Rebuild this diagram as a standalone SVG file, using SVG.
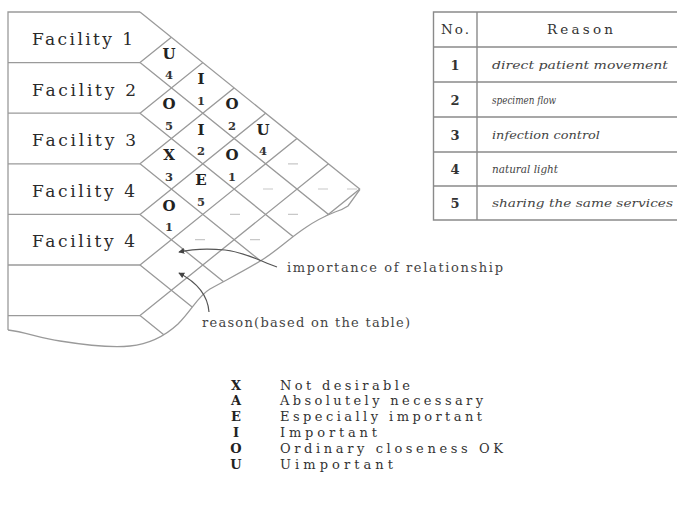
<svg xmlns="http://www.w3.org/2000/svg" width="677" height="507" viewBox="0 0 677 507">
<style>
.ln{fill:none;stroke:#9a9a9a;stroke-width:1.3}
.tb{fill:none;stroke:#8a8a8a;stroke-width:1.4}
.fac{font-family:"DejaVu Serif",serif;font-size:17px;fill:#2a2a2a}
.let{font-family:"DejaVu Serif",serif;font-size:15px;font-weight:bold;fill:#222;text-anchor:middle}
.num{font-family:"DejaVu Serif",serif;font-size:11.5px;font-weight:bold;fill:#333;text-anchor:middle}
.dash{stroke:#c8c8c8;stroke-width:1.2}
.hd{font-family:"DejaVu Serif",serif;font-size:13.5px;fill:#333}
.tn{font-family:"DejaVu Serif",serif;font-size:13px;font-weight:bold;fill:#333;text-anchor:middle}
.rs{font-family:"DejaVu Serif",serif;font-size:11.5px;font-style:italic;fill:#444}
.lg{font-family:"DejaVu Serif",serif;font-size:13px;fill:#333}
.lgl{font-family:"DejaVu Serif",serif;font-size:13px;font-weight:bold;fill:#222;text-anchor:middle}
.an{font-family:"DejaVu Serif",serif;font-size:13px;fill:#444}
.ar{fill:none;stroke:#555;stroke-width:1.2;marker-end:url(#ah)}
</style>
<defs>
<marker id="ah" viewBox="0 0 8 8" refX="7" refY="4" markerWidth="5" markerHeight="5" orient="auto">
<path d="M0,0 L8,4 L0,8 Z" fill="#444"/>
</marker>
<clipPath id="reg">
<path d="M140,12 L360,189.3 L348,206 C345,208 342,210 335,212 C325,216 315,221 305,228 C290,238 280,248 265,258 C250,268 228,279 210,289 C198,296 192,310 178,324 C165,336 150,344 130,346 L8,346 L8,12 Z"/>
</clipPath>
</defs>

<g id="chart-frame">
<path class="ln" d="M140,12 L8,12 L8,330"/>
<path class="ln" d="M140,12 L360,189.3"/>
<path class="ln" d="M8,330 C25,332 40,338 60,341 C85,345 110,348 130,346 C150,344 165,336 178,324 C192,310 198,296 210,289 C228,279 250,268 265,258 C280,248 290,238 305,228 C315,221 325,216 335,212 C342,210 345,208 348,206 L360,189.3"/>
<path class="ln" d="M8,62.6 H140 M8,113.2 H140 M8,163.8 H140 M8,214.4 H140 M8,265 H140 M8,315.6 H140"/>
<g clip-path="url(#reg)">
<path class="ln" d="M140,62.6 l260,209.5 M140,113.2 l260,209.5 M140,163.8 l260,209.5 M140,214.4 l260,209.5 M140,265 l260,209.5 M140,315.6 l260,209.5"/>
<path class="ln" d="M140,62.6 l260,-209.5 M140,113.2 l260,-209.5 M140,163.8 l260,-209.5 M140,214.4 l260,-209.5 M140,265 l260,-209.5 M140,315.6 l260,-209.5 M140,366.2 l260,-209.5"/>
</g>
</g>

<g id="facility-1"><text class="fac" x="32" y="45" textLength="101">Facility 1</text></g>
<g id="facility-2"><text class="fac" x="32" y="95.6" textLength="104">Facility 2</text></g>
<g id="facility-3"><text class="fac" x="32" y="146.2" textLength="104">Facility 3</text></g>
<g id="facility-4"><text class="fac" x="32" y="196.8" textLength="103">Facility 4</text></g>
<g id="facility-5"><text class="fac" x="32" y="247.4" textLength="103">Facility 4</text></g>

<g id="pair-1-2"><text class="let" x="169" y="58.5">U</text><text class="num" x="169" y="79">4</text></g>
<g id="pair-1-3"><text class="let" x="201" y="83.5">I</text><text class="num" x="201" y="104.5">1</text></g>
<g id="pair-2-3"><text class="let" x="169" y="109">O</text><text class="num" x="169" y="129.5">5</text></g>
<g id="pair-1-4"><text class="let" x="232" y="109">O</text><text class="num" x="232" y="129.5">2</text></g>
<g id="pair-2-4"><text class="let" x="201" y="134.5">I</text><text class="num" x="201" y="155">2</text></g>
<g id="pair-3-4"><text class="let" x="169" y="159.5">X</text><text class="num" x="169" y="180.5">3</text></g>
<g id="pair-1-5"><text class="let" x="263" y="134.5">U</text><text class="num" x="263" y="155">4</text></g>
<g id="pair-2-5"><text class="let" x="232" y="159.5">O</text><text class="num" x="232" y="180.5">1</text></g>
<g id="pair-3-5"><text class="let" x="201" y="185">E</text><text class="num" x="201" y="205.5">5</text></g>
<g id="pair-4-5"><text class="let" x="169" y="210.5">O</text><text class="num" x="169" y="231">1</text></g>
<g id="empty-pairs">
<path class="dash" d="M288,163.8 h10 M263,189 h10 M318,189 h10 M347,189 h10 M230,214.4 h10 M288,214.4 h10 M195,239.7 h10 M250,239.7 h10"/>
</g>

<g id="reason-table">
<path class="tb" d="M677,12 H433.5 V220 H677 M477,12 V220 M433.5,47 H677 M433.5,82 H677 M433.5,117 H677 M433.5,152 H677 M433.5,186 H677"/>
<text class="hd" x="441" y="34" textLength="28">No.</text>
<text class="hd" x="547" y="34" textLength="66">Reason</text>
<text class="tn" x="455" y="69.5">1</text>
<text class="tn" x="455" y="104.5">2</text>
<text class="tn" x="455" y="139.5">3</text>
<text class="tn" x="455" y="174">4</text>
<text class="tn" x="455" y="208">5</text>
<text class="rs" x="492" y="68.5" textLength="176" lengthAdjust="spacingAndGlyphs">direct patient movement</text>
<text class="rs" x="492" y="103.5" textLength="64" lengthAdjust="spacingAndGlyphs">specimen flow</text>
<text class="rs" x="492" y="138.5" textLength="108" lengthAdjust="spacingAndGlyphs">infection control</text>
<text class="rs" x="492" y="173" textLength="66" lengthAdjust="spacingAndGlyphs">natural light</text>
<text class="rs" x="492" y="207" textLength="181" lengthAdjust="spacingAndGlyphs">sharing the same services</text>
</g>

<g id="label-importance"><text class="an" x="287" y="271.5" textLength="216">importance of relationship</text></g>
<g id="label-reason"><text class="an" x="202" y="327" textLength="208">reason(based on the table)</text></g>

<g id="connectors">
<path class="ar" d="M277,267 C262,262 245,252 225,250 C205,248 192,249 179,252"/>
<path class="ar" d="M209,312 C208,298 200,284 179,273"/>
</g>

<g id="legend-X"><text class="lgl" x="236" y="389.5">X</text><text class="lg" x="280" y="389.5" textLength="130">Not desirable</text></g>
<g id="legend-A"><text class="lgl" x="236" y="405.3">A</text><text class="lg" x="280" y="405.3" textLength="203">Absolutely necessary</text></g>
<g id="legend-E"><text class="lgl" x="236" y="421.1">E</text><text class="lg" x="280" y="421.1" textLength="202">Especially important</text></g>
<g id="legend-I"><text class="lgl" x="236" y="436.9">I</text><text class="lg" x="280" y="436.9" textLength="97">Important</text></g>
<g id="legend-O"><text class="lgl" x="236" y="452.7">O</text><text class="lg" x="280" y="452.7" textLength="223">Ordinary closeness OK</text></g>
<g id="legend-U"><text class="lgl" x="236" y="468.5">U</text><text class="lg" x="280" y="468.5" textLength="113">Uimportant</text></g>
</svg>
